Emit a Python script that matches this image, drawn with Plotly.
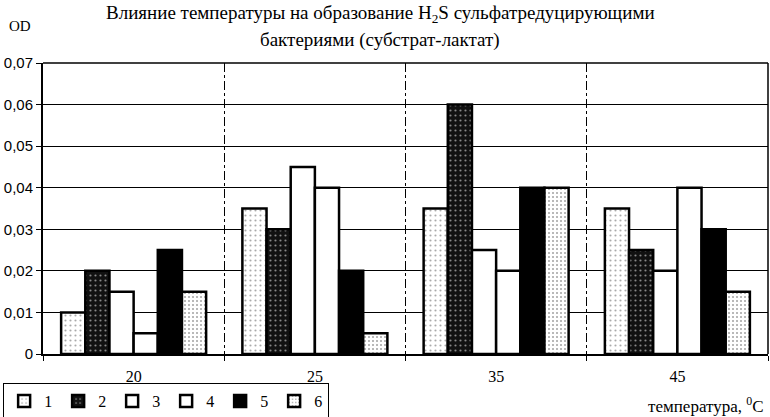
import plotly.graph_objects as go

categories = ["20", "25", "35", "45"]
series_names = ["1", "2", "3", "4", "5", "6"]
s1 = [0.010, 0.035, 0.035, 0.035]
s2 = [0.020, 0.030, 0.060, 0.025]
s3 = [0.015, 0.045, 0.025, 0.020]
s4 = [0.005, 0.040, 0.020, 0.040]
s5 = [0.025, 0.020, 0.040, 0.030]
s6 = [0.015, 0.005, 0.040, 0.015]
y_tickvals = [0, 0.01, 0.02, 0.03, 0.04, 0.05, 0.06, 0.07]
y_ticktext = ["0", "0,01", "0,02", "0,03", "0,04", "0,05", "0,06", "0,07"]
title_line1 = "Влияние температуры на образование H<sub>2</sub>S сульфатредуцирующими"
title_line2 = "бактериями (субстрат-лактат)"

series = [s1, s2, s3, s4, s5, s6]
styles = [
    dict(color="white", marker_pattern=dict(shape=".", fgcolor="#555", bgcolor="white", size=5, solidity=0.15)),
    dict(color="#111", marker_pattern=dict(shape=".", fgcolor="white", bgcolor="#111", size=5, solidity=0.15)),
    dict(color="white", marker_pattern=None),
    dict(color="white", marker_pattern=None),
    dict(color="black", marker_pattern=None),
    dict(color="white", marker_pattern=dict(shape=".", fgcolor="#444", bgcolor="white", size=4, solidity=0.2)),
]

fig = go.Figure()
for name, vals, st in zip(series_names, series, styles):
    marker = dict(color=st["color"], line=dict(color="black", width=2.5))
    if st["marker_pattern"] is not None:
        marker["pattern"] = st["marker_pattern"]
    fig.add_trace(go.Bar(x=categories, y=vals, name=name, marker=marker))

serif = "Liberation Serif"
H = 291.0  # plot height in px


def py(px):
    return (354 - px) / H


fig.update_layout(
    width=770, height=417,
    margin=dict(l=43, r=2, t=63, b=63, autoexpand=False),
    paper_bgcolor="white", plot_bgcolor="white",
    barmode="group", bargap=0.2, bargroupgap=0,
    font=dict(family=serif, color="black", size=14),
    showlegend=True,
    legend=dict(
        orientation="h", x=-0.055, xanchor="left", y=py(383), yanchor="top",
        bordercolor="black", borderwidth=1, bgcolor="white",
        font=dict(family=serif, size=16, color="black"),
        itemwidth=30, tracegroupgap=0,
        entrywidth=9, entrywidthmode="pixels",
    ),
    xaxis=dict(
        type="category", showline=True, linecolor="black", linewidth=2,
        ticks="outside", ticklen=5, tickcolor="black", tickson="boundaries",
        showgrid=True, gridcolor="black", gridwidth=1, griddash="dashdot",
        tickfont=dict(family=serif, size=16, color="black"),
        ticklabelstandoff=7,
    ),
    yaxis=dict(
        range=[0, 0.07], tickvals=y_tickvals, ticktext=y_ticktext,
        showline=True, linecolor="black", linewidth=2,
        ticks="outside", ticklen=5, tickcolor="black",
        showgrid=True, gridcolor="black", gridwidth=1,
        tickfont=dict(family="Liberation Sans", size=15, color="black"),
        zeroline=False,
    ),
    annotations=[
        dict(text=title_line1, xref="paper", yref="paper", x=0.465, y=py(14), xanchor="center", yanchor="middle",
             showarrow=False, font=dict(family=serif, size=19, color="black")),
        dict(text=title_line2, xref="paper", yref="paper", x=0.465, y=py(40), xanchor="center", yanchor="middle",
             showarrow=False, font=dict(family=serif, size=19, color="black")),
        dict(text="OD", xref="paper", yref="paper", x=-0.05, y=py(26), xanchor="left", yanchor="middle",
             showarrow=False, font=dict(family=serif, size=15, color="black")),
        dict(text="температура, <sup>0</sup>C", xref="paper", yref="paper", x=0.997, y=py(405),
             xanchor="right", yanchor="middle", showarrow=False, font=dict(family=serif, size=17, color="black")),
    ],
)
fig.add_shape(type="line", xref="paper", yref="paper", x0=1, x1=1, y0=0, y1=1, line=dict(color="black", width=1.5))
fig.add_shape(type="line", xref="paper", yref="paper", x0=0, x1=1, y0=1, y1=1, line=dict(color="black", width=1.5))

fig.write_html("out.html", config={"displayModeBar": False},
               post_script="document.body.style.margin='0';document.body.style.overflow='hidden';")
